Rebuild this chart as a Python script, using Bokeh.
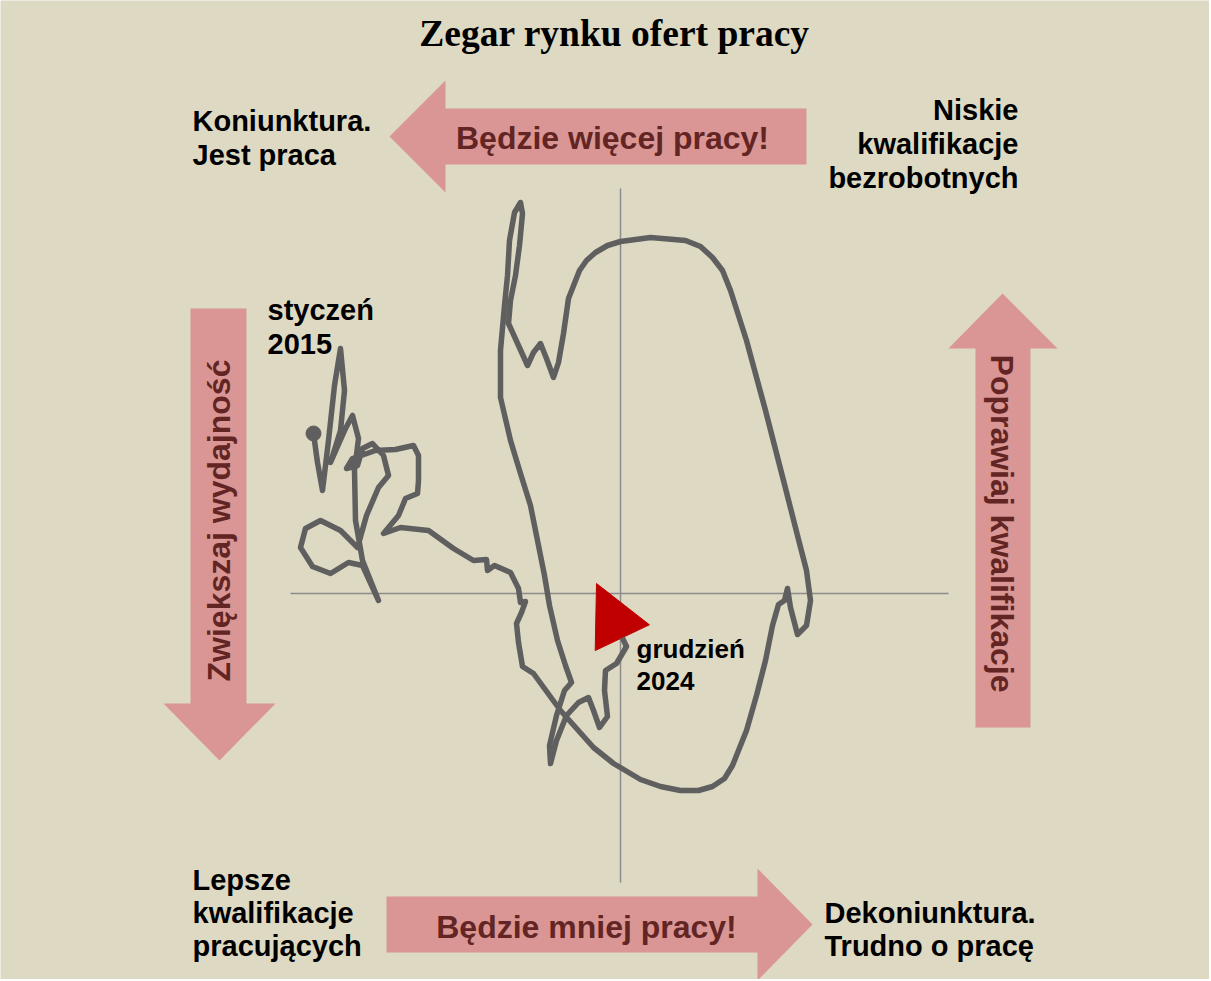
import math
from bokeh.plotting import figure
from bokeh.models import Range1d, Label, Arrow, NormalHead
from bokeh.embed import file_html
from bokeh.resources import INLINE

# ---------------- data (chart units) ----------------
# monthly path of the job-offer clock, January 2015 -> December 2024
clock_x = [-3.07, -3.03, -2.98, -2.92, -2.86, -2.80, -2.76, -2.80, -2.90, -2.75,
           -2.68, -2.62, -2.66, -2.65, -2.58, -2.42, -2.58, -2.72, -2.90, -3.08,
           -3.20, -3.15, -3.00, -2.80, -2.63, -2.54, -2.42, -2.32, -2.37, -2.48,
           -2.58, -2.63, -2.74, -2.68, -2.45, -2.25, -2.07, -2.02, -2.02, -2.03,
           -2.15, -2.22, -2.37, -2.20, -1.92, -1.67, -1.47, -1.34, -1.33, -1.26,
           -1.10, -1.02, -1.00, -0.95, -0.99, -1.04, -1.02, -0.98, -0.87, -0.60,
           -0.27, -0.07, 0.20, 0.40, 0.60, 0.78, 0.92, 1.04, 1.12, 1.26,
           1.36, 1.45, 1.52, 1.58, 1.64, 1.67, 1.70, 1.77, 1.86, 1.90,
           1.86, 1.77, 1.63, 1.45, 1.26, 1.10, 1.02, 0.92, 0.80, 0.65,
           0.30, 0.00, -0.13, -0.25, -0.34, -0.41, -0.52,
           -0.57, -0.62, -0.67, -0.74, -0.80, -0.87, -0.93, -1.02, -1.12, -1.10,
           -1.05, -1.01, -0.98, -1.00, -1.06, -1.11, -1.13, -1.16, -1.20, -1.20,
           -1.10, -1.00, -0.90, -0.83, -0.76, -0.71, -0.63, -0.55, -0.49, -0.56,
           -0.64, -0.71, -0.70, -0.64, -0.54, -0.42, -0.32, -0.27, -0.21, -0.13,
           -0.16, -0.15, -0.04, 0.06, -0.24]
clock_y = [1.60, 1.31, 1.03, 1.53, 2.08, 2.45, 2.03, 1.63, 1.31, 1.65,
           1.78, 1.55, 1.23, 0.73, 0.33, -0.07, 0.28, 0.31, 0.20, 0.27,
           0.46, 0.65, 0.73, 0.63, 0.46, 0.78, 1.06, 1.18, 1.38, 1.50,
           1.45, 1.28, 1.25, 1.35, 1.43, 1.44, 1.48, 1.38, 1.13, 1.00,
           0.95, 0.78, 0.60, 0.66, 0.63, 0.45, 0.33, 0.34, 0.23, 0.28,
           0.21, 0.05, -0.09, -0.08, -0.19, -0.30, -0.49, -0.73, -0.80, -1.17,
           -1.54, -1.70, -1.86, -1.93, -1.97, -1.97, -1.93, -1.85, -1.72, -1.37,
           -1.02, -0.67, -0.32, -0.11, -0.07, 0.05, -0.14, -0.41, -0.32, -0.07,
           0.23, 0.58, 1.13, 1.83, 2.53, 3.03, 3.23, 3.36, 3.47, 3.53,
           3.56, 3.52, 3.48, 3.41, 3.33, 3.23, 2.95,
           2.60, 2.31, 2.16, 2.35, 2.50, 2.41, 2.28, 2.48, 2.70, 2.93,
           3.18, 3.48, 3.80, 3.91, 3.81, 3.53, 3.18, 2.88, 2.43, 1.96,
           1.53, 1.20, 0.88, 0.53, 0.18, -0.12, -0.47, -0.72, -0.89, -0.97,
           -1.22, -1.52, -1.70, -1.47, -1.22, -1.09, -1.04, -1.17, -1.34, -1.23,
           -0.97, -0.77, -0.70, -0.53, 0.10]
assert len(clock_x) == len(clock_y)

axis_x_limits = [-3.30, 3.28]
axis_y_limits = [-2.89, 4.05]

start_label = ["styczeń", "2015"]
end_label = ["grudzień", "2024"]
title_text = "Zegar rynku ofert pracy"
corner_top_left = ["Koniunktura.", "Jest praca"]
corner_top_right = ["Niskie", "kwalifikacje", "bezrobotnych"]
corner_bottom_left = ["Lepsze", "kwalifikacje", "pracujących"]
corner_bottom_right = ["Dekoniunktura.", "Trudno o pracę"]
arrow_top_text = "Będzie więcej pracy!"
arrow_bottom_text = "Będzie mniej pracy!"
arrow_left_text = "Zwiększaj wydajność"
arrow_right_text = "Poprawiaj kwalifikacje"

# ---------------- styling / layout ----------------
BG = "#DDD9C3"
PINK = "#D99694"
DARKRED = "#632523"
LINE = "#5F5F5F"
RED = "#C00000"
AXIS = "#8C8C8C"
SANS = "Liberation Sans"
SERIF = "Liberation Serif"

W, H = 1209, 979
OX, OY, SCALE, PAGE = 620, 593, 100.0, 0


def px(v):  # page pixel -> chart x
    return (v - OX) / SCALE


def py(v):  # page pixel -> chart y
    return (OY - v) / SCALE


p = figure(width=W, height=H,
           x_range=Range1d(px(PAGE), px(PAGE + W)),
           y_range=Range1d(py(PAGE + H), py(PAGE)),
           output_backend="svg", toolbar_location=None,
           x_axis_location=None, y_axis_location=None,
           min_border=0, background_fill_color=BG, border_fill_color=BG,
           outline_line_color=None)
p.grid.visible = False

# ---------------- decorative block arrows ----------------
def block(points):
    p.patch([px(a) for a, b in points], [py(b) for a, b in points],
            fill_color=PINK, line_color=None)

block([(389, 136), (445, 80), (445, 108), (806, 108), (806, 164), (445, 164), (445, 192)])
block([(812, 924), (757, 868), (757, 896), (386, 896), (386, 952), (757, 952), (757, 980)])
block([(219, 760), (163, 703), (190, 703), (190, 308), (246, 308), (246, 703), (275, 703)])
block([(1002, 293), (1057, 348), (1030, 348), (1030, 727), (975, 727), (975, 348), (948, 348)])

# ---------------- axes cross ----------------
p.segment(x0=[axis_x_limits[0], 0], y0=[0, axis_y_limits[0]],
          x1=[axis_x_limits[1], 0], y1=[0, axis_y_limits[1]],
          line_color=AXIS, line_width=1.5)

# ---------------- the clock path ----------------
p.line(clock_x[:-1], clock_y[:-1], line_color=LINE, line_width=5.5,
       line_join="round", line_cap="round")
p.scatter([clock_x[0]], [clock_y[0]], size=15, fill_color=LINE, line_color=LINE)
p.add_layout(Arrow(end=NormalHead(size=60, fill_color=RED, line_color=RED, line_width=1),
                   x_start=clock_x[-2], y_start=clock_y[-2],
                   x_end=clock_x[-1], y_end=clock_y[-1],
                   line_color=LINE, line_width=5.5))

# ---------------- texts ----------------
def label(text, x, y, size, align="left", color="black", font=SANS, angle=0.0,
          baseline="alphabetic"):
    p.add_layout(Label(x=px(x), y=py(y), text=text, text_font=font,
                       text_font_style="bold", text_font_size=f"{size}px",
                       text_color=color, text_align=align, text_baseline=baseline,
                       angle=angle))

label(title_text, 614, 33, 37.5, align="center", font=SERIF)

for i, t in enumerate(corner_top_left):
    label(t, 192, 120 + 34 * i, 29)
for i, t in enumerate(corner_top_right):
    label(t, 1018, 109 + 34 * i, 29, align="right")
for i, t in enumerate(corner_bottom_left):
    label(t, 192, 879 + 33 * i, 29)
for i, t in enumerate(corner_bottom_right):
    label(t, 824, 912 + 33 * i, 29)
for i, t in enumerate(start_label):
    label(t, 267, 309 + 34 * i, 29)
for i, t in enumerate(end_label):
    label(t, 636, 648 + 32 * i, 26)

label(arrow_top_text, 612, 137, 32, align="center", color=DARKRED)
label(arrow_bottom_text, 586, 926, 32, align="center", color=DARKRED)
label(arrow_left_text, 218, 520, 32, align="center", color=DARKRED,
      angle=math.pi / 2, baseline="middle")
label(arrow_right_text, 1001, 523, 32, align="center", color=DARKRED,
      angle=-math.pi / 2, baseline="middle")

open("out.html", "w").write(file_html(p, INLINE))
